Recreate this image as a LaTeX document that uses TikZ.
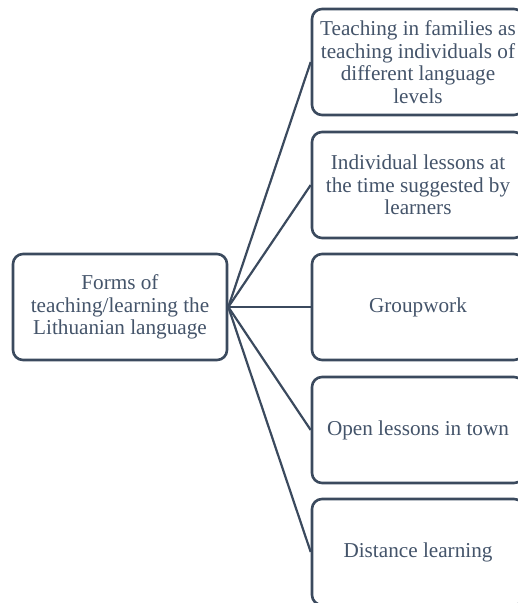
\documentclass[tikz,border=0pt]{standalone}
\usepackage{fontspec}
\setmainfont{Liberation Serif}
\usepackage{tikz}
\definecolor{slate}{HTML}{3B4A5E}
\definecolor{slatetext}{HTML}{44546A}

\begin{document}
\begin{tikzpicture}[x=1pt,y=-1pt,
    box/.style={draw=slate,line width=2.6pt,rounded corners=10pt,fill=white,
        minimum width=212pt,minimum height=106pt,align=center,text=slatetext,
        font=\fontsize{21.2}{22.5}\selectfont},
    rootbox/.style={box,minimum width=214pt},
    link/.style={draw=slate,line width=2.2pt}]
    \clip (0,0) rectangle (518,603);
    \node[rootbox] (root) at (120,307) {Forms of\\teaching/learning the\\Lithuanian language};
    \node[box] (fam) at (418,62) {Teaching in families as\\teaching individuals of\\different language\\levels};
    \node[box] (indiv) at (418,185) {Individual lessons at\\the time suggested by\\learners};
    \node[box] (group) at (418,307) {Groupwork};
    \node[box] (open) at (418,430) {Open lessons in town};
    \node[box] (dist) at (418,552) {Distance learning};
    % connectors
    \foreach \n in {fam,indiv,group,open,dist}
        \draw[link] (root.east) -- (\n.west);
\end{tikzpicture}
\end{document}
